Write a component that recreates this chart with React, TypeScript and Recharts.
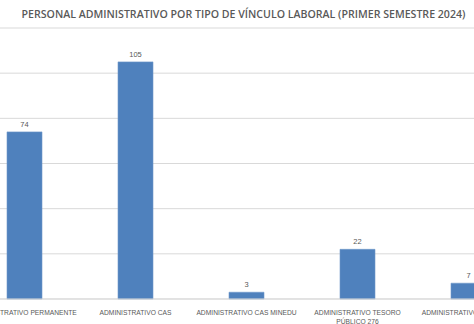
import React from 'react';
import { BarChart, Bar, XAxis, YAxis, CartesianGrid, LabelList } from 'recharts';

const title = 'PERSONAL ADMINISTRATIVO POR TIPO DE VÍNCULO LABORAL (PRIMER SEMESTRE 2024)';
const categories = [
  'ADMINISTRATIVO PERMANENTE',
  'ADMINISTRATIVO CAS',
  'ADMINISTRATIVO CAS MINEDU',
  'ADMINISTRATIVO TESORO PÚBLICO 276',
  'ADMINISTRATIVO EVENTUAL',
];
const values = [74, 105, 3, 22, 7];
const yTicks = [0, 20, 40, 60, 80, 100, 120];

const data = categories.map((name, i) => ({ name, value: values[i] }));

const FONT = '"Liberation Sans", Arial, sans-serif';
const GRAY = '#595959';

const wrapText = (s: string, max: number): string[] => {
  const words = s.split(' ');
  const lines: string[] = [];
  let cur = '';
  words.forEach((w) => {
    const next = cur ? cur + ' ' + w : w;
    if (next.length > max && cur) {
      lines.push(cur);
      cur = w;
    } else {
      cur = next;
    }
  });
  if (cur) lines.push(cur);
  return lines;
};

const Tick = (props: any) => {
  const { x, y, payload } = props;
  const lines = wrapText(String(payload.value), 25);
  return (
    <g transform={`translate(${x},${y})`}>
      <text textAnchor="middle" fill={GRAY} fontSize={6.7} fontFamily={FONT}>
        {lines.map((l, i) => (
          <tspan key={i} x={0} dy={i === 0 ? 7.5 : 9.3}>
            {l}
          </tspan>
        ))}
      </text>
    </g>
  );
};

export default function App() {
  return (
    <div
      style={{
        position: 'absolute',
        left: 0,
        top: 0,
        width: 474,
        height: 324,
        overflow: 'hidden',
        background: '#ffffff',
      }}
    >
      <div
        style={{
          position: 'absolute',
          left: 0,
          top: 7,
          width: 487,
          textAlign: 'center',
          fontFamily: '"Open Sans", sans-serif',
          fontWeight: 600,
          fontSize: 10.6,
          color: GRAY,
          whiteSpace: 'nowrap',
          lineHeight: '14px',
        }}
      >
        {title}
      </div>
      <div style={{ position: 'absolute', left: -31, top: 0 }}>
        <BarChart
          width={555}
          height={324}
          data={data}
          margin={{ top: 28, right: 0, bottom: 0, left: 0 }}
        >
          <CartesianGrid vertical={false} stroke="#d9d9d9" />
          <YAxis hide domain={[0, 120]} ticks={yTicks} />
          <XAxis
            dataKey="name"
            height={25}
            tickLine={false}
            axisLine={{ stroke: '#d9d9d9' }}
            interval={0}
            tick={<Tick />}
          />
          <Bar dataKey="value" fill="#4f81bd" stroke="#6f98cb" strokeWidth={0.6} barSize={35} isAnimationActive={false}>
            <LabelList dataKey="value" position="top" offset={5} fill={GRAY} fontSize={7.5} fontFamily={FONT} />
          </Bar>
        </BarChart>
      </div>
    </div>
  );
}
